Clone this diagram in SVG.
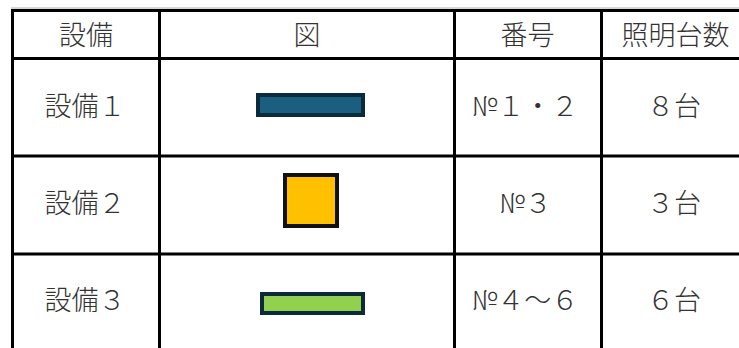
<svg xmlns="http://www.w3.org/2000/svg" width="739" height="348" viewBox="0 0 739 348">
<style>
.t{font-family:"Noto Sans CJK JP","Noto Sans",sans-serif;font-size:27px;font-weight:300;fill:#333;text-anchor:middle}
.g{stroke:#000;stroke-width:3;fill:none}
</style>
<rect width="739" height="348" fill="#fff"/>
<g id="grid">
<line x1="11" y1="8" x2="739" y2="8" stroke="#b0b0b0" stroke-width="1"/>
<path class="g" d="M11 10.5H739M12.5 9V348M11 58.5H739M11 156H739M11 254H739M159.5 9V348M454.5 9V348M601.5 9V348"/>
</g>
<g id="header">
<text class="t" x="86" y="45">設備</text>
<text class="t" x="307" y="45">図</text>
<text class="t" x="527.5" y="45">番号</text>
<text class="t" x="675.5" y="45">照明台数</text>
</g>
<g id="row1">
<text class="t" x="85" y="116">設備１</text>
<rect x="258" y="95" width="105" height="20" fill="#1a5e80" stroke="#0b2a3c" stroke-width="4"/>
<text class="t" x="525" y="116">№１・２</text>
<text class="t" x="674" y="116">８台</text>
</g>
<g id="row2">
<text class="t" x="85" y="213">設備２</text>
<rect x="285" y="175" width="52" height="51" fill="#ffc000" stroke="#111" stroke-width="4"/>
<text class="t" x="525.5" y="213">№３</text>
<text class="t" x="674" y="213">３台</text>
</g>
<g id="row3">
<text class="t" x="85" y="310">設備３</text>
<rect x="262" y="294" width="101" height="19" fill="#92d050" stroke="#0d2a3a" stroke-width="4"/>
<text class="t" x="525" y="310">№４～６</text>
<text class="t" x="674" y="310">６台</text>
</g>
</svg>
